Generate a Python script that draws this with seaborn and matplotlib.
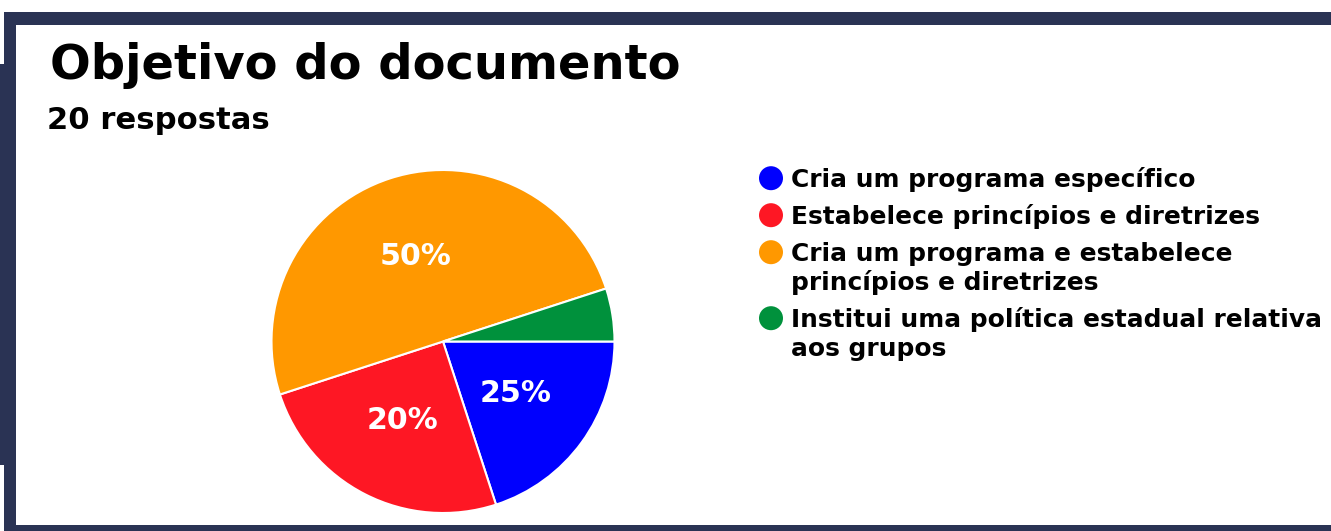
import matplotlib
matplotlib.use("Agg")
import matplotlib.pyplot as plt
import seaborn as sns
from matplotlib.patches import Rectangle

# data (20 answers)
categories = [
    "Cria um programa específico",
    "Estabelece princípios e diretrizes",
    "Cria um programa e estabelece\nprincípios e diretrizes",
    "Institui uma política estadual relativa\naos grupos",
]
counts = [4, 5, 10, 1]
# percentage texts as printed on the slices
pct_labels = ["25%", "20%", "50%", ""]
slice_colors = ["#0000FE", "#FE1724", "#FF9800", "#00913C"]

title = "Objetivo do documento"
subtitle = "20 respostas"
border_color = "#2A3354"

sns.set_theme(style="white")
plt.rcParams["font.family"] = ["DejaVu Sans"]

W, H = 1331, 531
fig = plt.figure(figsize=(W / 100, H / 100), dpi=100)
fig.patch.set_facecolor("white")

# overlay axes in pixel units (y downward) for frame, titles and legend
over = fig.add_axes([0, 0, 1, 1])
over.set_xlim(0, W)
over.set_ylim(H, 0)
over.axis("off")

# dark frame around the card
over.add_patch(Rectangle((4, 12), W - 4, 13, color=border_color, lw=0))
over.add_patch(Rectangle((4, 12), 12, H - 12, color=border_color, lw=0))
over.add_patch(Rectangle((0, 64), 5, 401, color=border_color, lw=0))
over.add_patch(Rectangle((4, 525), W - 4, 6, color=border_color, lw=0))

px = 72 / 100  # pixels -> points
over.text(50, 79, title, fontsize=48 * px, fontweight="bold", color="black", va="baseline")
over.text(47, 129, subtitle, fontsize=30.7 * px, fontweight="bold", color="black", va="baseline")

# pie
cx, cy, r = 443, 341.5, 171.5
ax = fig.add_axes([(cx - r) / W, (H - cy - r) / H, 2 * r / W, 2 * r / H])
wedges, texts = ax.pie(
    counts,
    colors=sns.color_palette(slice_colors),
    startangle=0,
    counterclock=False,
    labels=pct_labels,
    labeldistance=0.52,
    wedgeprops=dict(edgecolor="white", linewidth=1.5),
    textprops=dict(color="white", fontsize=30 * px, fontweight="bold", ha="center", va="center"),
)
ax.set_xlim(-1, 1)
ax.set_ylim(-1, 1)
ax.set_aspect("equal")
ax.axis("off")

# legend, marker next to the first line of each entry
y = 186.7
line_h = 29
for lab, col in zip(categories, slice_colors):
    lines = lab.split("\n")
    over.scatter([771], [y - 8.5], s=(24 * px) ** 2, color=col, edgecolors="none")
    for k, ln in enumerate(lines):
        over.text(791, y + k * line_h, ln, fontsize=24.9 * px, fontweight="bold",
                  color="black", va="baseline")
    y += (len(lines) - 1) * line_h + 37

fig.savefig("out.png", dpi=100, facecolor="white")
